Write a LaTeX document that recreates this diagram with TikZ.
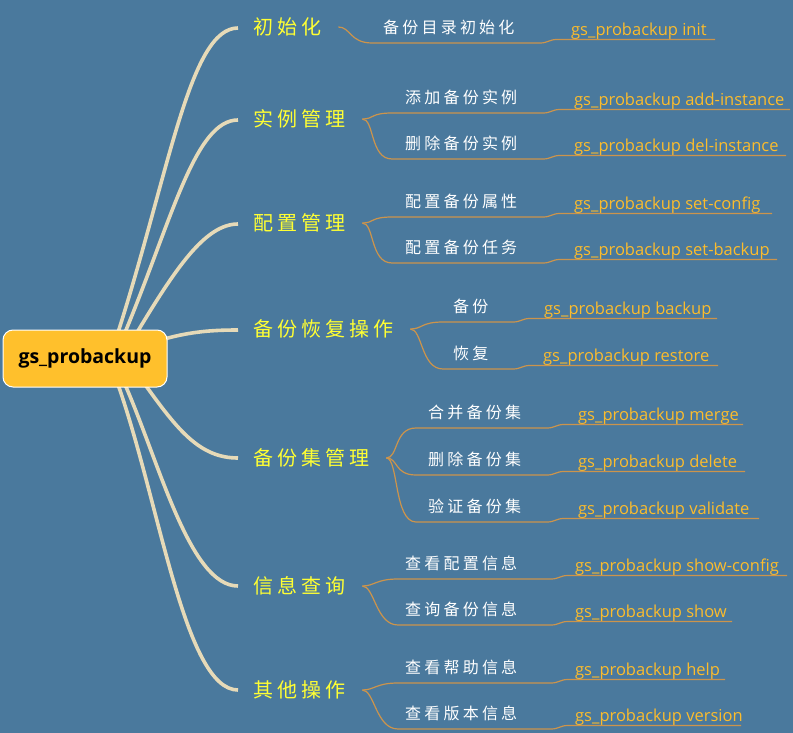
\documentclass[tikz,border=0pt]{standalone}
\usepackage{fontspec}
\setmainfont{Open Sans}
\newfontfamily\cjk[LetterSpace=20]{Noto Sans CJK SC}
\usetikzlibrary{backgrounds}
\definecolor{mmback}{RGB}{74,121,157}
\definecolor{mmcream}{RGB}{230,218,184}
\definecolor{mmbrown}{RGB}{204,148,76}
\definecolor{mmyellow}{RGB}{255,255,51}
\definecolor{mmgold}{RGB}{252,188,44}
\definecolor{mmroot}{RGB}{255,192,44}

\begin{document}
\begin{tikzpicture}[x=1pt,y=-1pt,
  rootbox/.style={draw=white,line width=1pt,fill=mmroot,rounded corners=10pt,
    minimum width=164pt,minimum height=57pt,font=\bfseries\fontsize{19.5}{19.5}\selectfont},
  trunk/.style={draw=mmcream,line width=3.6pt},
  twig/.style={draw=mmbrown,line width=1.2pt},
  topic/.style={inner sep=0pt,anchor=west,text=mmyellow,font=\cjk\fontsize{20}{20}\selectfont},
  subtopic/.style={inner sep=0pt,anchor=west,text=white,font=\cjk\fontsize{16}{16}\selectfont},
  command/.style={inner sep=0pt,anchor=base west,text=mmgold,font=\fontsize{16.5}{16.5}\selectfont}]
  \useasboundingbox (0,0) rectangle (793,733);
  % root and main topics
  \node[rootbox] (root) at (85,358.5) {gs\_probackup};
  \node[topic] (init) at (253,27) {初始化};
  \node[topic] (inst) at (253,119) {实例管理};
  \node[topic] (conf) at (253,223) {配置管理};
  \node[topic] (ops) at (253,329) {备份恢复操作};
  \node[topic] (sets) at (253,458) {备份集管理};
  \node[topic] (info) at (253,586) {信息查询};
  \node[topic] (misc) at (253,690) {其他操作};
  \begin{scope}[on background layer]
    \fill[mmback] (0,0) rectangle (793,733);
    \draw[trunk] ([xshift=33pt,yshift=-3pt]root.north) .. controls +(52,-163) and +(-48,0) .. ([xshift=-15pt,yshift=-1pt]init.west);
    \draw[trunk] ([xshift=40pt,yshift=-3pt]root.north) .. controls +(47,-113) and +(-43,0) .. ([xshift=-15pt,yshift=-1pt]inst.west);
    \draw[trunk] ([xshift=52pt,yshift=-3pt]root.north) .. controls +(38,-63) and +(-33,0) .. ([xshift=-15pt,yshift=-1pt]conf.west);
    \draw[trunk] ([xshift=-5pt,yshift=19pt]root.east) .. controls +(28,-8) and +(-25,0) .. ([xshift=-15pt,yshift=-1pt]ops.west);
    \draw[trunk] ([xshift=60pt,yshift=3pt]root.south) .. controls +(33,46) and +(-38,0) .. ([xshift=-15pt]sets.west);
    \draw[trunk] ([xshift=40pt,yshift=3pt]root.south) .. controls +(35,80) and +(-48,0) .. ([xshift=-15pt]info.west);
    \draw[trunk] ([xshift=33pt,yshift=3pt]root.south) .. controls +(42,120) and +(-53,0) .. ([xshift=-15pt]misc.west);
  \end{scope}
  % leaves: topic / tag / line y / line start / step x / line end / label x / command x / label / command
  \foreach \br/\tag/\ly/\hx/\sx/\xe/\lx/\cx/\lab/\cmd in {
      init/a/43/372/540/715/383/571/备份目录初始化/init,
      inst/b/113/392/543/790/405/574/添加备份实例/add-instance,
      inst/c/159/392/543/786/405/574/删除备份实例/del-instance,
      conf/d/217/392/543/772/405/574/配置备份属性/set-config,
      conf/e/263/392/543/777/405/574/配置备份任务/set-backup,
      ops/f/322/443/513/717/453/544/备份/backup,
      ops/g/369/443/513/718/453/543/恢复/restore,
      sets/h/428/416/547/743/428/578/合并备份集/merge,
      sets/i/475/416/547/745/428/578/删除备份集/delete,
      sets/j/522/416/547/759/428/578/验证备份集/validate,
      info/k/579/398/551/787/405/575/查看配置信息/show-config,
      info/l/625/398/551/732/405/575/查询备份信息/show,
      misc/m/683/398/551/725/405/575/查看帮助信息/help,
      misc/n/729/398/551/741/405/575/查看版本信息/version}{
    \coordinate (h\tag) at (\hx,\ly);
    \coordinate (s\tag) at (\sx,\ly);
    \coordinate (t\tag) at (\sx+17,\ly-3.5);
    \coordinate (e\tag) at (\xe,\ly-3.5);
    \node[subtopic] (l\tag) at (\lx,\ly-16) {\lab};
    \node[command] (c\tag) at (\cx,\ly-7.5) {gs\_probackup \cmd};
    \draw[twig] ([xshift=17pt]\br.east) .. controls +(12,0) and +(-22,0) .. (h\tag)
      -- (s\tag) .. controls +(8,0) and +(-8,0) .. (t\tag) -- (e\tag);
  }
\end{tikzpicture}
\end{document}
